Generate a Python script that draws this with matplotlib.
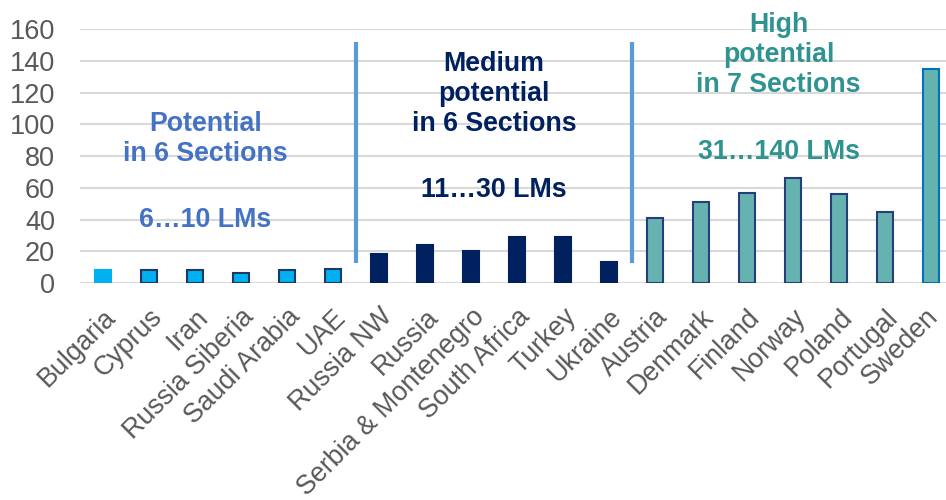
import matplotlib
matplotlib.use("Agg")
import matplotlib.pyplot as plt
from matplotlib.transforms import ScaledTranslation

plt.rcParams['font.family'] = ['Liberation Sans', 'DejaVu Sans']

countries = ["Bulgaria", "Cyprus", "Iran", "Russia Siberia", "Saudi Arabia", "UAE",
             "Russia NW", "Russia", "Serbia & Montenegro", "South Africa", "Turkey", "Ukraine",
             "Austria", "Denmark", "Finland", "Norway", "Poland", "Portugal", "Sweden"]
lms = [8, 8, 8, 6, 8, 9,
       18, 24, 20, 29, 29, 13,
       41, 51, 57, 66, 56, 45, 135]
groups = ["low"] * 6 + ["mid"] * 6 + ["high"] * 7

fill = {"low": "#00B0F0", "mid": "#002060", "high": "#66B2B0"}
edge = {"low": "#1F3864", "mid": "#002060", "high": "#243F7A"}

fig = plt.figure(figsize=(9.46, 5.0), dpi=100)
ax = fig.add_axes([80 / 946, 1 - 283 / 500, 874 / 946, (283 - 29.3) / 500])

x = list(range(len(countries)))
bars = ax.bar(x, lms, width=0.35, color=[fill[g] for g in groups],
              edgecolor=[edge[g] for g in groups], linewidth=1.5, zorder=3)
bars[0].set_edgecolor(fill["low"])
bars[-1].set_edgecolor("#0070C0")

ax.set_xlim(-0.5, 18.5)
ax.set_ylim(0, 160)
ax.set_yticks(range(0, 161, 20))
ax.yaxis.grid(True, color="#D9D9D9", linewidth=1.5, zorder=0)
ax.set_axisbelow(True)
for s in ax.spines.values():
    s.set_visible(False)
ax.tick_params(axis="y", length=0, pad=18, labelsize=19.5, labelcolor="#595959")
ax.tick_params(axis="x", length=0, pad=15, labelsize=19.3, labelcolor="#595959")
ax.set_xticks(x)
ax.set_xticklabels(countries, rotation=45, ha="right", rotation_mode="anchor")
# nudge the last label so it stays inside the figure
last = ax.get_xticklabels()[-1]
last.set_transform(last.get_transform() + ScaledTranslation(-6 / 100, 0, fig.dpi_scale_trans))

# section separators
for sx in (5.5, 11.5):
    ax.plot([sx, sx], [12.4, 152], color="#5B9BD5", linewidth=3, zorder=4,
            solid_capstyle="butt")

kw = dict(ha="center", va="center", fontsize=19.3, fontweight="bold", linespacing=1.2)
ax.text(2.23, 90.7, "Potential\nin 6 Sections", color="#4472C4", **kw)
ax.text(2.23, 39.6, "6…10 LMs", color="#4472C4", **kw)
ax.text(8.5, 119.4, "Medium\npotential\nin 6 Sections", color="#002060", **kw)
ax.text(8.5, 58.5, "11…30 LMs", color="#002060", **kw)
ax.text(14.69, 143.6, "High\npotential\nin 7 Sections", color="#2F9390", **kw)
ax.text(14.69, 82.5, "31…140 LMs", color="#2F9390", **kw)

fig.savefig("out.png", dpi=100)
